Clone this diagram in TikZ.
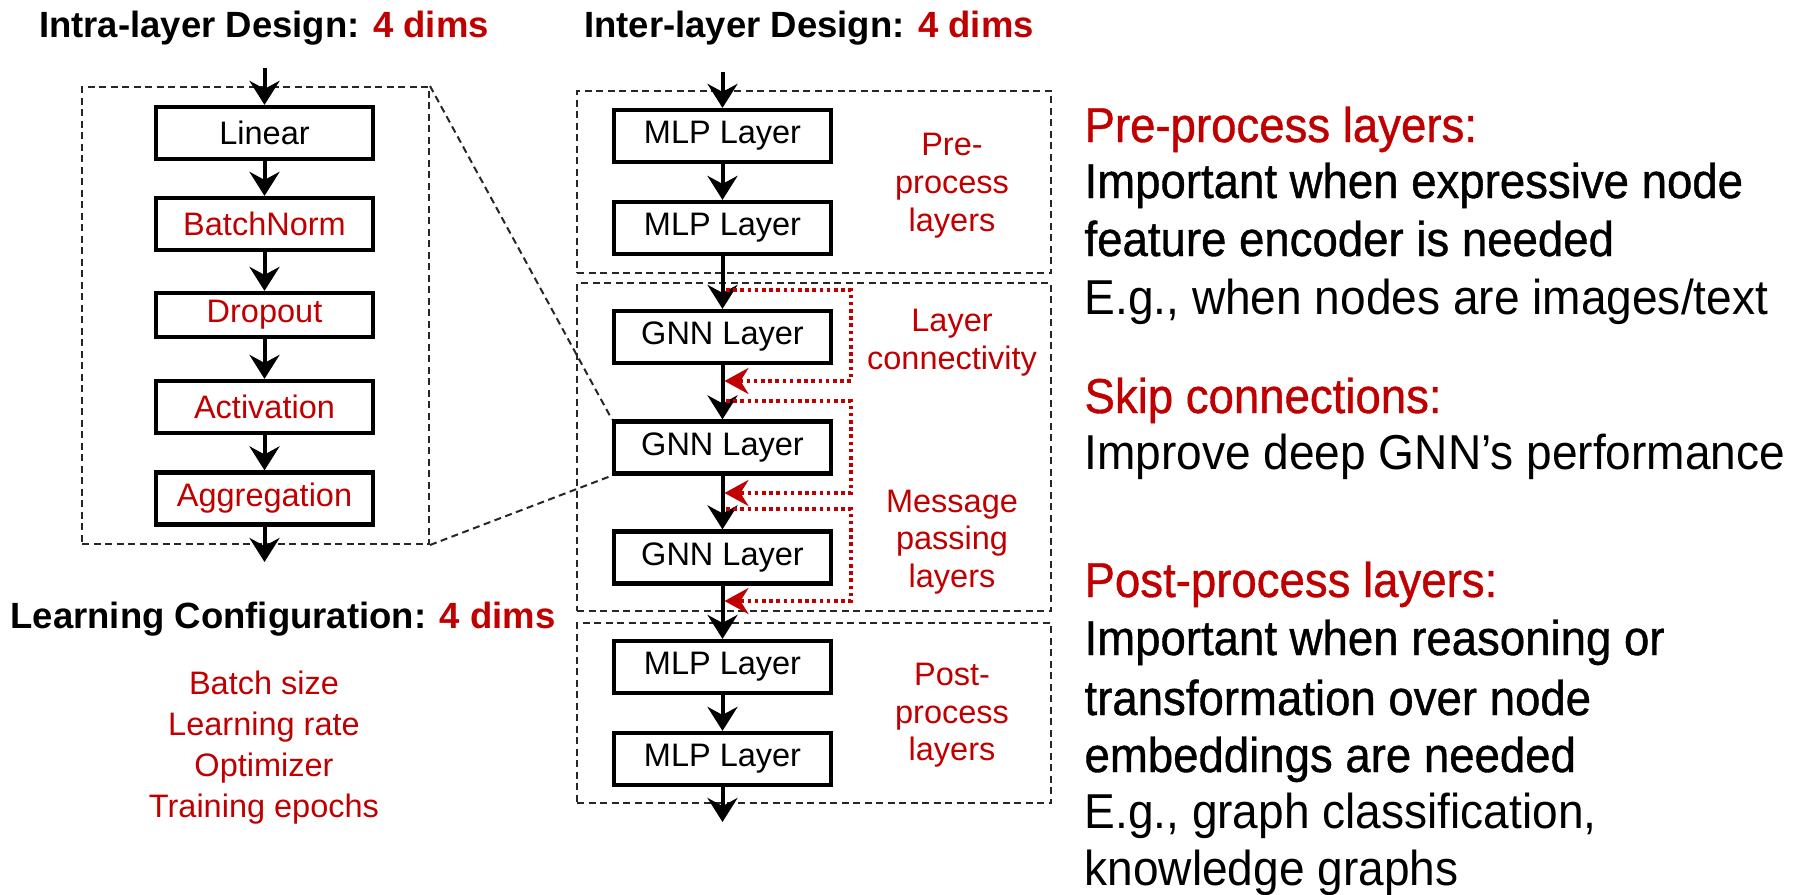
\documentclass[tikz,border=0pt]{standalone}
\usepackage{fontspec}
\setmainfont{Liberation Sans}
\newfontfamily\notefont[FakeStretch=0.94]{Liberation Sans}
\newfontfamily\notefontmid[FakeStretch=0.93,FakeBold=0.8]{Liberation Sans}
\usetikzlibrary{arrows.meta}
\definecolor{accent}{RGB}{192,0,0}

\tikzset{
  layerbox/.style={draw, line width=4.2pt, minimum width=217pt, minimum height=52pt,
    inner sep=0pt, font=\fontsize{32.5}{38}\selectfont},
  redtext/.style={text=accent},
  flow/.style={line width=4pt, -{Stealth[length=24pt,width=30pt,inset=8pt]}},
  groupbox/.style={draw=black!85, line width=2pt, dash pattern=on 7pt off 4.5pt, inner sep=0pt},
  zoomline/.style={draw=black!85, line width=2pt, dash pattern=on 7pt off 4.5pt},
  skiplink/.style={draw=accent, line width=3.6pt, dash pattern=on 3.6pt off 3.6pt,
    -{Stealth[length=24pt,width=26pt,inset=8pt]}},
  headline/.style={anchor=base, font=\fontsize{36.5}{44}\selectfont\bfseries},
  sidelabel/.style={anchor=base, text=accent, font=\fontsize{32.5}{38}\selectfont},
  noteline/.style={anchor=base west, font=\notefont\fontsize{49}{58}\selectfont},
  notemid/.style={anchor=base west, font=\notefontmid\fontsize{49}{58}\selectfont},
}

\begin{document}
\begin{tikzpicture}[x=1pt,y=-1pt]
\useasboundingbox (0,0) rectangle (1798,894);

% ---------- intra-layer design ----------
\node[headline] (intratitle) at (264,37.5) {Intra-layer Design: \textcolor{accent}{4 dims}};
\node[groupbox, minimum width=347pt, minimum height=457pt] (intra) at (255.5,315.5) {};

\node[layerbox] (lin) at (264.5,133) {Linear};
\node[layerbox, redtext] (bn) at (264.5,224) {BatchNorm};
\node[layerbox, redtext, minimum height=44pt] (drop) at (264.5,315) {Dropout};
\node[layerbox, redtext] (act) at (264.5,407) {Activation};
\node[layerbox, redtext] (agg) at (264.5,498.5) {Aggregation};

\coordinate (intrain) at (264.5,68);
\coordinate (intraout) at (264.5,562);
\draw[flow] (intrain) -- (lin.north);
\draw[flow] (lin) -- (bn);
\draw[flow] (bn) -- (drop);
\draw[flow] (drop) -- (act);
\draw[flow] (act) -- (agg);
\draw[flow] (agg) -- (intraout);

% ---------- learning configuration ----------
\node[headline] (lctitle) at (283,628) {Learning Configuration: \textcolor{accent}{4 dims}};
\node[sidelabel] (lc1) at (264,694) {Batch size};
\node[sidelabel] (lc2) at (264,735) {Learning rate};
\node[sidelabel] (lc3) at (264,776) {Optimizer};
\node[sidelabel] (lc4) at (264,817) {Training epochs};

% ---------- inter-layer design ----------
\node[headline] (intertitle) at (809,37) {Inter-layer Design: \textcolor{accent}{4 dims}};
\node[groupbox, minimum width=474pt, minimum height=182pt] (pregrp) at (814,182) {};
\node[groupbox, minimum width=474pt, minimum height=328pt] (mpgrp) at (814,447) {};
\node[groupbox, minimum width=474pt, minimum height=180pt] (postgrp) at (814,713) {};

\node[layerbox] (mlp1) at (722.5,136) {MLP Layer};
\node[layerbox] (mlp2) at (722.5,228) {MLP Layer};
\node[layerbox] (gnn1) at (722.5,337) {GNN Layer};
\node[layerbox] (gnn2) at (722.5,447.5) {GNN Layer};
\node[layerbox] (gnn3) at (722.5,557.5) {GNN Layer};
\node[layerbox] (mlp3) at (722.5,667) {MLP Layer};
\node[layerbox] (mlp4) at (722.5,759) {MLP Layer};

\coordinate (interin) at (722.5,72);
\coordinate (interout) at (722.5,822);
\draw[flow] (interin) -- (mlp1.north);
\draw[flow] (mlp1) -- (mlp2);
\draw[flow] (mlp2) -- (gnn1);
\draw[flow] (gnn1) -- (gnn2);
\draw[flow] (gnn2) -- (gnn3);
\draw[flow] (gnn3) -- (mlp3);
\draw[flow] (mlp3) -- (mlp4);
\draw[flow] (mlp4) -- (interout);

% skip connections
\coordinate (k1a) at (726,290);  \coordinate (k1b) at (724.5,381);
\coordinate (k2a) at (726,401);  \coordinate (k2b) at (724.5,493);
\coordinate (k3a) at (726,509);  \coordinate (k3b) at (724.5,601);
\draw[skiplink] (k1a) -- ++(125,0) |- (k1b);
\draw[skiplink] (k2a) -- ++(125,0) |- (k2b);
\draw[skiplink] (k3a) -- ++(125,0) |- (k3b);

% zoom from the GNN layer to its internals
\draw[zoomline] (intra.north east) -- (gnn2.north west);
\draw[zoomline] (intra.south east) -- (gnn2.south west);

% group labels
\node[sidelabel] (pre1) at (952,155) {Pre-};
\node[sidelabel] (pre2) at (952,193) {process};
\node[sidelabel] (pre3) at (952,231) {layers};
\node[sidelabel] (con1) at (952,331) {Layer};
\node[sidelabel] (con2) at (952,369) {connectivity};
\node[sidelabel] (mp1) at (952,512) {Message};
\node[sidelabel] (mp2) at (952,549) {passing};
\node[sidelabel] (mp3) at (952,587) {layers};
\node[sidelabel] (post1) at (952,685) {Post-};
\node[sidelabel] (post2) at (952,723) {process};
\node[sidelabel] (post3) at (952,760) {layers};

% ---------- notes ----------
\node[notemid, text=accent] (n1) at (1081,142) {Pre-process layers:};
\node[notemid] (n2) at (1081,198) {Important when expressive node};
\node[notemid] (n3) at (1081,256) {feature encoder is needed};
\node[noteline] (n4) at (1081,314) {E.g., when nodes are images/text};
\node[notemid, text=accent] (n5) at (1081,413) {Skip connections:};
\node[noteline] (n6) at (1081,469) {Improve deep GNN’s performance};
\node[notemid, text=accent] (n7) at (1081,597) {Post-process layers:};
\node[notemid] (n8) at (1081,655) {Important when reasoning or};
\node[notemid] (n9) at (1081,715) {transformation over node};
\node[notemid] (n10) at (1081,772) {embeddings are needed};
\node[noteline] (n11) at (1081,828) {E.g., graph classification,};
\node[noteline] (n12) at (1081,885) {knowledge graphs};
\end{tikzpicture}
\end{document}
